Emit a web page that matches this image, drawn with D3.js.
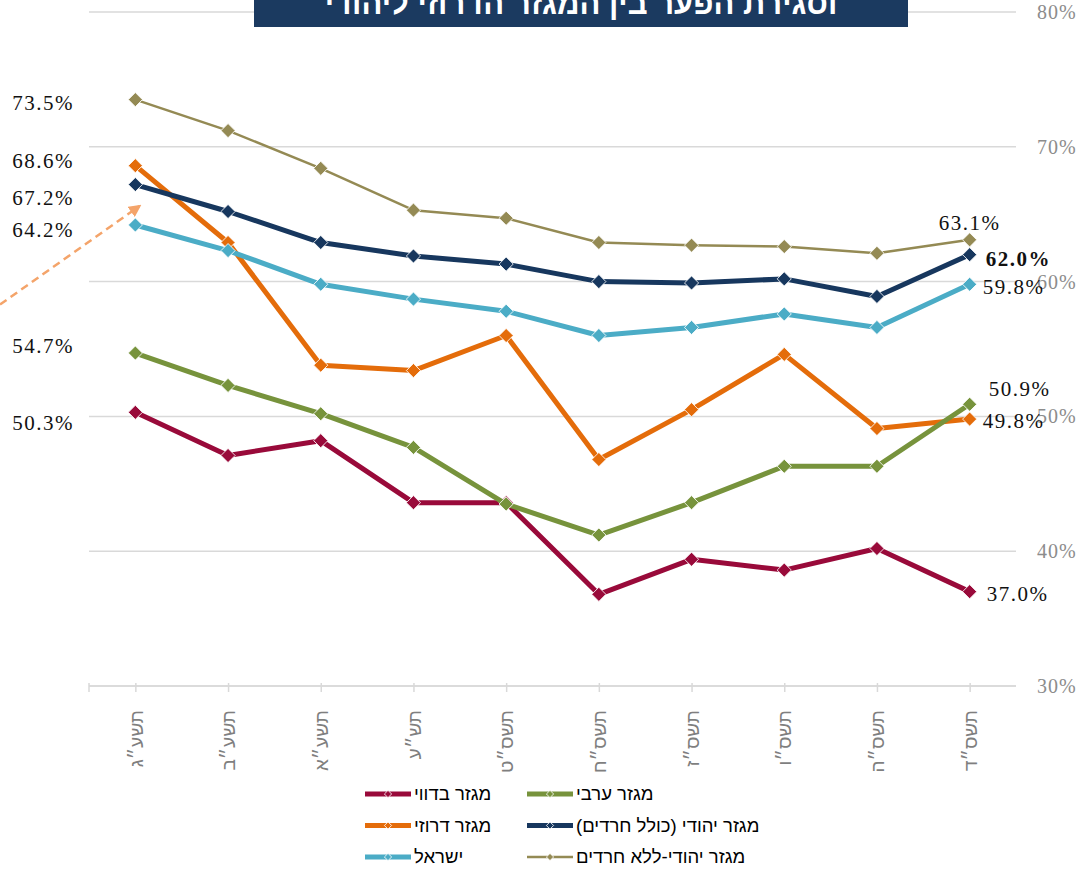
<!DOCTYPE html>
<meta charset="utf-8">
<html>
<style>
  body { margin: 0; background: #fff; }
  .grid line { stroke: #d9d9d9; stroke-width: 1.5px; }
  .xaxis text { fill: #7f7f7f; font-family: "Liberation Sans", Arial, sans-serif; font-size: 19px; }
  .yaxis text { fill: #8c8c8c; font-family: "Liberation Serif", serif; font-size: 20px; letter-spacing: 1px; }
  .lbl { font-family: "Liberation Serif", serif; font-size: 21px; letter-spacing: 1.5px; fill: #111; }
  .leg text { font-family: "Liberation Sans", Arial, sans-serif; font-size: 18.5px; fill: #000; direction: rtl; }
</style>
<body>
<svg width="1086" height="872"></svg>
<script src="https://d3js.org/d3.v7.min.js"></script>
<script>

var title = "וסגירת הפער בין המגזר הדרוזי ליהודי";

var categories = ["תשע״ג", "תשע״ב", "תשע״א", "תש״ע", "תשס״ט", "תשס״ח", "תשס״ז", "תשס״ו", "תשס״ה", "תשס״ד"];

var bedouin  = [50.3, 47.1, 48.2, 43.6, 43.6, 36.8, 39.4, 38.6, 40.2, 37.0];
var druze    = [68.6, 62.9, 53.8, 53.4, 56.0, 46.8, 50.5, 54.6, 49.1, 49.8];
var arab     = [54.7, 52.3, 50.2, 47.7, 43.5, 41.2, 43.6, 46.3, 46.3, 50.9];
var jewish   = [67.2, 65.2, 62.9, 61.9, 61.3, 60.0, 59.9, 60.2, 58.9, 62.0];
var israel   = [64.2, 62.3, 59.8, 58.7, 57.8, 56.0, 56.6, 57.6, 56.6, 59.8];
var jewishNoHaredi = [73.5, 71.2, 68.4, 65.3, 64.7, 62.9, 62.7, 62.6, 62.1, 63.1];

var yTicks = [30, 40, 50, 60, 70, 80];

var series = [
  { name: "מגזר בדווי", values: bedouin, color: "#990a3a", width: 5 },
  { name: "מגזר דרוזי", values: druze, color: "#e46c0a", width: 5 },
  { name: "מגזר ערבי", values: arab, color: "#77933c", width: 5 },
  { name: "מגזר יהודי (כולל חרדים)", values: jewish, color: "#17375e", width: 5 },
  { name: "ישראל", values: israel, color: "#4bacc6", width: 5 },
  { name: "מגזר יהודי-ללא חרדים", values: jewishNoHaredi, color: "#948a54", width: 2.5 }
];

var svg = d3.select("svg");

var x = d3.scalePoint().domain(categories).range([89, 1016]).padding(0.5);
var y = d3.scaleLinear().domain([30, 80]).range([686, 12]);

// gridlines
svg.append("g").attr("class", "grid")
  .selectAll("line").data(yTicks).enter().append("line")
  .attr("x1", 89).attr("x2", 1016)
  .attr("y1", function(d) { return y(d); })
  .attr("y2", function(d) { return y(d); });

// title box (cut at the top of the picture)
svg.append("rect").attr("x", 254).attr("y", -12).attr("width", 654).attr("height", 39)
  .attr("fill", "#1b3a60");
svg.append("text").attr("x", 581).attr("y", 14)
  .attr("text-anchor", "middle")
  .style("font-family", "'Liberation Sans', Arial, sans-serif")
  .style("font-weight", "bold").style("font-size", "31px").attr("fill", "#fff")
  .text(title);

// x axis
var xAxis = svg.append("g").attr("class", "xaxis")
  .attr("transform", "translate(0,686)")
  .call(d3.axisBottom(x).tickSize(6).tickSizeOuter(0));
xAxis.select(".domain").attr("d", "M89,0H1016").attr("stroke", "#d9d9d9").attr("stroke-width", 1.5);
xAxis.selectAll(".tick line").attr("stroke", "#d9d9d9").attr("stroke-width", 1.5).attr("y1", -3);
xAxis.append("line").attr("x1", 89).attr("x2", 89).attr("y1", -3).attr("y2", 6)
  .attr("stroke", "#d9d9d9").attr("stroke-width", 1.5);
xAxis.selectAll(".tick text")
  .attr("transform", "translate(0,24) rotate(-90)")
  .attr("x", 0).attr("y", 0).attr("dy", "0.35em")
  .style("text-anchor", "end");

// y axis on the right
var yAxis = svg.append("g").attr("class", "yaxis")
  .attr("transform", "translate(1034,0)")
  .call(d3.axisRight(y).tickValues(yTicks).tickSize(0).tickFormat(function(d) { return d + "%"; }));
yAxis.select(".domain").remove();

// arrow annotation
svg.append("defs").append("marker")
  .attr("id", "head").attr("viewBox", "0 0 10 10").attr("refX", 8).attr("refY", 5)
  .attr("markerWidth", 5).attr("markerHeight", 5).attr("orient", "auto")
  .append("path").attr("d", "M0,0L10,5L0,10z").attr("fill", "#f4a46a");
svg.append("line")
  .attr("x1", 0).attr("y1", y(58.3))
  .attr("x2", x(categories[0]) + 4).attr("y2", y(65.6))
  .attr("stroke", "#f4a46a").attr("stroke-width", 2.5)
  .attr("stroke-dasharray", "8,5")
  .attr("marker-end", "url(#head)");

// lines and markers
var line = d3.line()
  .x(function(d, i) { return x(categories[i]); })
  .y(function(d) { return y(d); });

var diamond = d3.symbol().type(d3.symbolSquare).size(100);

series.forEach(function(s) {
  var g = svg.append("g");
  g.append("path").datum(s.values)
    .attr("d", line).attr("fill", "none")
    .attr("stroke", s.color).attr("stroke-width", s.width)
    .attr("stroke-linejoin", "round");
  g.selectAll("path.pt").data(s.values).enter().append("path")
    .attr("class", "pt")
    .attr("d", diamond)
    .attr("transform", function(d, i) { return "translate(" + x(categories[i]) + "," + y(d) + ") rotate(45)"; })
    .attr("fill", s.color).attr("stroke", "#fff").attr("stroke-width", 0.8);
});

// value labels: first and last point of each series
var leftLabels = [
  { v: jewishNoHaredi[0], dy: 3 },
  { v: druze[0], dy: -5 },
  { v: jewish[0], dy: 13 },
  { v: israel[0], dy: 5 },
  { v: arab[0], dy: -7 },
  { v: bedouin[0], dy: 10 }
];
var rightLabels = [
  { v: jewishNoHaredi[9], dx: -31, dy: -17, bold: false },
  { v: jewish[9], dx: 16, dy: 4, bold: true },
  { v: israel[9], dx: 13, dy: 2, bold: false },
  { v: arab[9], dx: 19, dy: -16, bold: false },
  { v: druze[9], dx: 13, dy: 2, bold: false },
  { v: bedouin[9], dx: 17, dy: 2, bold: false }
];

svg.selectAll("text.left").data(leftLabels).enter().append("text")
  .attr("class", "lbl left")
  .attr("x", 74)
  .attr("y", function(d) { return y(d.v) + d.dy; })
  .attr("dy", "0.35em")
  .attr("text-anchor", "end")
  .text(function(d) { return d.v.toFixed(1) + "%"; });

var xLast = x(categories[categories.length - 1]);
svg.selectAll("text.right").data(rightLabels).enter().append("text")
  .attr("class", "lbl right")
  .attr("x", function(d) { return xLast + d.dx; })
  .attr("y", function(d) { return y(d.v) + d.dy; })
  .attr("dy", "0.35em")
  .style("font-weight", function(d) { return d.bold ? "bold" : "normal"; })
  .text(function(d) { return d.v.toFixed(1) + "%"; });

// legend
var legendOrder = [
  { s: 0, col: 0, row: 0 }, { s: 2, col: 1, row: 0 },
  { s: 1, col: 0, row: 1 }, { s: 3, col: 1, row: 1 },
  { s: 4, col: 0, row: 2 }, { s: 5, col: 1, row: 2 }
];
var colX = [365, 527];
var leg = svg.append("g").attr("class", "leg");
legendOrder.forEach(function(o) {
  var s = series[o.s];
  var lx = colX[o.col], ly = 794 + o.row * 31.5;
  leg.append("line").attr("x1", lx).attr("x2", lx + 46).attr("y1", ly).attr("y2", ly)
    .attr("stroke", s.color).attr("stroke-width", s.width);
  leg.append("path").attr("d", d3.symbol().type(d3.symbolSquare).size(26))
    .attr("transform", "translate(" + (lx + 23) + "," + ly + ") rotate(45)")
    .attr("fill", s.color).attr("stroke", "#fff").attr("stroke-width", 0.8);
  leg.append("text").attr("x", lx + 49).attr("y", ly).attr("dy", "0.35em")
    .attr("text-anchor", "end")
    .text(s.name);
});

</script>
</body>
</html>
